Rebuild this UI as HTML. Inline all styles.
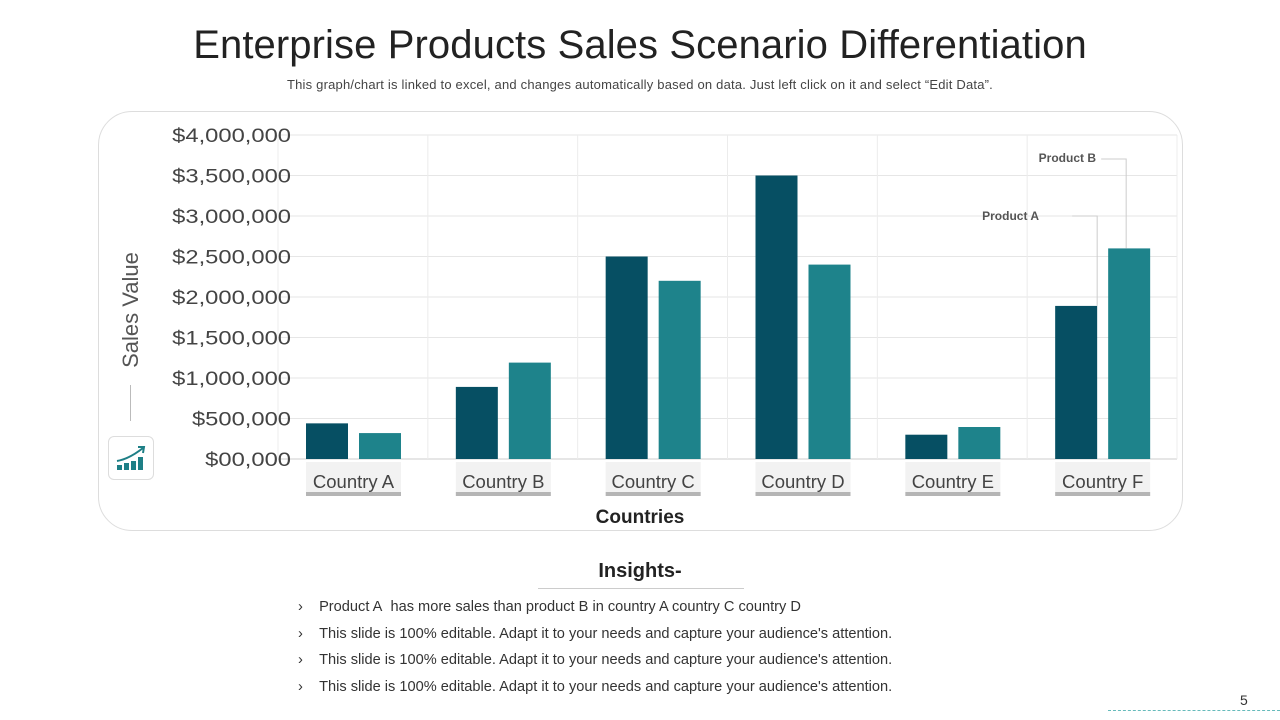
<!DOCTYPE html>
<html><head><meta charset="utf-8"><style>
body{margin:0;width:1280px;height:720px;background:#fff;font-family:"Liberation Sans",sans-serif;position:relative;overflow:hidden}
.abs{position:absolute}
</style></head><body>
<div class="abs" style="left:0;width:1280px;top:23px;text-align:center;font-size:40px;color:#222;letter-spacing:0.1px">Enterprise Products Sales Scenario Differentiation</div>
<div class="abs" style="left:0;width:1280px;top:77px;text-align:center;font-size:13px;color:#444;letter-spacing:0.2px">This graph/chart is linked to excel, and changes automatically based on data. Just left click on it and select “Edit Data”.</div>
<div class="abs" style="left:98px;top:111px;width:1083px;height:418px;border:1px solid #ddd;border-radius:34px"></div>
<div class="abs" style="left:108px;top:436px;width:44px;height:42px;border:1px solid #ddd;border-radius:6px">
<svg width="44" height="42"><g fill="#1e7f86"><rect x="8" y="28" width="5" height="5"/><rect x="15" y="26" width="5" height="7"/><rect x="22" y="24" width="5" height="9"/><rect x="29" y="20" width="5" height="13"/></g><path d="M8 24 Q20 22 34 11" stroke="#1e7f86" stroke-width="2" fill="none"/><path d="M29 10 L35 10 L34 16" stroke="#1e7f86" stroke-width="2" fill="none"/></svg></div>
<div class="abs" style="left:131px;top:310px;transform:translate(-50%,-50%) rotate(-90deg);font-size:22px;color:#555;white-space:nowrap">Sales Value</div>
<div class="abs" style="left:130px;top:385px;width:1px;height:36px;background:#bbb"></div>
<svg class="abs" style="left:0;top:0" width="1280" height="720" id="chart"></svg>
<div class="abs" style="left:540px;width:200px;top:507px;text-align:center;font-size:19px;font-weight:bold;color:#222">Countries</div>
<div class="abs" style="left:540px;width:200px;top:560px;text-align:center;font-size:20px;font-weight:bold;color:#222">Insights-</div>
<div class="abs" style="left:538px;top:588px;width:206px;height:1px;background:#ccc"></div>
<div class="abs" style="left:298px;top:594px;font-size:14.6px;color:#333;line-height:26.5px">
<div>›&nbsp;&nbsp;&nbsp;&nbsp;Product A&nbsp; has more sales than product B in country A country C country D</div>
<div>›&nbsp;&nbsp;&nbsp;&nbsp;This slide is 100% editable. Adapt it to your needs and capture your audience's attention.</div>
<div>›&nbsp;&nbsp;&nbsp;&nbsp;This slide is 100% editable. Adapt it to your needs and capture your audience's attention.</div>
<div>›&nbsp;&nbsp;&nbsp;&nbsp;This slide is 100% editable. Adapt it to your needs and capture your audience's attention.</div>
</div>
<div class="abs" style="left:1240px;top:692px;font-size:14px;color:#333">5</div>
<div class="abs" style="left:1108px;top:710px;width:172px;border-top:1px dashed #6bb"></div>
<script>
const categories=["Country A","Country B","Country C","Country D","Country E","Country F"];
const productA=[440000,890000,2500000,3500000,300000,1890000];
const productB=[320000,1190000,2200000,2400000,395000,2600000];
const yTicks=[0,500000,1000000,1500000,2000000,2500000,3000000,3500000,4000000];
const yTickLabels=["$00,000","$500,000","$1,000,000","$1,500,000","$2,000,000","$2,500,000","$3,000,000","$3,500,000","$4,000,000"];
const svg=document.getElementById('chart');const NS='http://www.w3.org/2000/svg';
const X0=278,X1=1177,Y0=459,Y1=135,MAX=4000000;
const gw=(X1-X0)/categories.length;
const y=v=>Y0-(v/MAX)*(Y0-Y1);
function mk(t,a){const e=document.createElementNS(NS,t);for(const k in a)e.setAttribute(k,a[k]);svg.appendChild(e);return e;}
yTicks.forEach((t,i)=>{const g=mk('line',{x1:X0,x2:X1,y1:y(t),y2:y(t),stroke:i==0?'#ccc':'#e6e6e6'});


const l=mk('text',{x:0,y:0,transform:`translate(291,${y(t)+7}) scale(1.25,1)`,'text-anchor':'end','font-size':19,fill:'#444'});l.textContent=yTickLabels[i];

});
for(let i=0;i<=categories.length;i++){const v=mk('line',{x1:X0+i*gw,x2:X0+i*gw,y1:Y1,y2:Y0,stroke:'#ececec'});

}
categories.forEach((c,i)=>{const gx=X0+i*gw;
const a=mk('rect',{x:gx+28,y:y(productA[i]),width:42,height:Y0-y(productA[i]),fill:'#064f63'});


const b=mk('rect',{x:gx+81,y:y(productB[i]),width:42,height:Y0-y(productB[i]),fill:'#1e838b'});


const bg=mk('rect',{x:gx+28,y:462,width:95,height:30,fill:'#f2f2f2'});


const ul=mk('rect',{x:gx+28,y:492,width:95,height:4,fill:'#b5b5b5'});


const t=mk('text',{x:gx+75.5,y:488,'text-anchor':'middle','font-size':18.5,fill:'#444'});t.textContent=c;

});
const fx=X0+5*gw;
const pa=mk('polyline',{points:`${fx+70},${y(productA[5])} ${fx+70},216 ${fx+45},216`,stroke:'#ccc',fill:'none'});


const pb=mk('polyline',{points:`${fx+99},${y(productB[5])} ${fx+99},159 ${fx+74},159`,stroke:'#ccc',fill:'none'});


const ta=mk('text',{x:1039,y:220,'text-anchor':'end','font-size':12,'font-weight':'bold',fill:'#555'});ta.textContent='Product A';


const tb=mk('text',{x:1096,y:162,'text-anchor':'end','font-size':12,'font-weight':'bold',fill:'#555'});tb.textContent='Product B';


</script>
</body></html>
